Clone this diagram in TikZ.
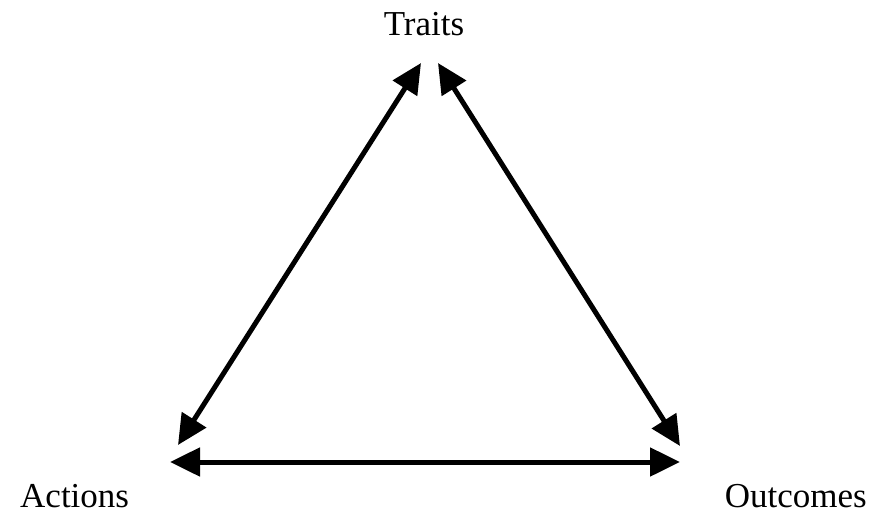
\documentclass[tikz,border=0pt]{standalone}
\usepackage{fontspec}
\setmainfont{Liberation Serif}
\usetikzlibrary{arrows.meta}

\begin{document}
\begin{tikzpicture}[
  x=1pt, y=-1pt,
  label/.style={inner sep=0pt, font=\fontsize{35}{40}\selectfont},
  link/.style={<->, line width=5pt},
  >={Triangle[length=30pt,width=28pt]}
]
\useasboundingbox (0,0) rectangle (870,512);
\node[label, anchor=base] (traits) at (424,35) {Traits};
\node[label, anchor=base west] (actions) at (20,507) {Actions};
\node[label, anchor=base east] (outcomes) at (867,507) {Outcomes};

% arrow ends
\coordinate (ta) at (421,63);
\coordinate (to) at (438,63);
\coordinate (at) at (178,445);
\coordinate (ot) at (680,446);
\coordinate (ao) at (170,462);
\coordinate (oa) at (680,462);

\draw[link] (at) -- (ta);
\draw[link] (to) -- (ot);
\draw[link] (ao) -- (oa);
\end{tikzpicture}
\end{document}
